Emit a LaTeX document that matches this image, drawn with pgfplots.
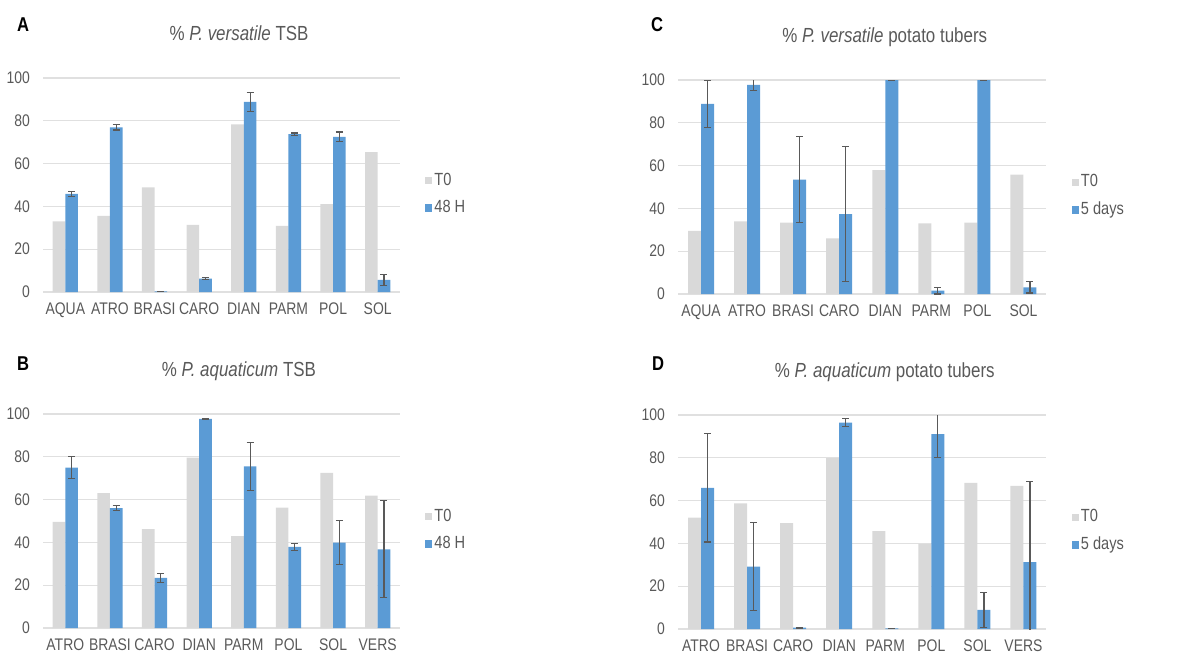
\documentclass[border=0pt]{standalone}
\usepackage{pgfplots}
\pgfplotsset{compat=1.18}
\usepackage{fontspec}
\setmainfont{Liberation Sans}[FakeStretch=0.83]

\definecolor{tzero}{HTML}{D9D9D9}
\definecolor{blu}{HTML}{5B9BD5}
\definecolor{txt}{HTML}{595959}
\definecolor{gridc}{HTML}{E0E0E0}

\pgfplotsset{
  panel/.style={
    scale only axis, height=107pt,
    ymin=0, ymax=100, ytick={0,20,...,100},
    xmin=-0.5, xmax=7.5, xtick={0,...,7},
    axis line style={draw=none},
    major tick length=0pt,
    ymajorgrids, grid style={gridc, line width=0.6pt},
    ybar=0pt,
    tick label style={font=\fontsize{8.4}{9}\selectfont, text=txt},
    /pgf/number format/assume math mode=true,
    yticklabel style={xshift=-3pt},
    xticklabel style={yshift=-2pt},
    title style={font=\fontsize{10.2}{12}\selectfont, text=txt, anchor=base, yshift=13pt},
    legend style={draw=none, fill=none, font=\fontsize{8.8}{10}\selectfont, text=txt,
      anchor=west, at={(1,0.457)}, xshift=12.5pt, row sep=4pt, inner sep=0pt,
      nodes={inner sep=1pt}},
    legend cell align=left,
    legend image code/.code={\fill[##1] (0pt,-1.9pt) rectangle (3.5pt,1.9pt);},
  },
  tz/.style={fill=tzero, draw=none},
  hr/.style={fill=blu, draw=none,
    error bars/.cd, y dir=both, y explicit,
    error bar style={txt, line width=0.6pt},
    error mark options={txt, rotate=90, mark size=1.75pt, line width=0.6pt}},
}

\begin{document}
\begin{tikzpicture}

% A
\begin{axis}[panel, name=A, at={(21.5pt,181.5pt)}, anchor=south west,
    width=178.5pt, bar width=6.3pt,
    title={\% \textit{P. versatile} TSB}, title style={at={(0.549,1)}},
    xticklabels={AQUA,ATRO,BRASI,CARO,DIAN,PARM,POL,SOL}]
\addplot[tz] coordinates {(0,33) (1,35.6) (2,48.9) (3,31.4) (4,78.3) (5,30.9) (6,41.1) (7,65.4)};
\addplot[hr] coordinates {
  (0,45.8) +- (0,1.0)
  (1,76.9) +- (0,1.2)
  (2,0.3) +- (0,0)
  (3,6.2) +- (0,0.5)
  (4,88.8) +- (0,4.5)
  (5,73.8) +- (0,0.5)
  (6,72.5) +- (0,2.3)
  (7,5.7) +- (0,2.5)
};
\legend{T0,48 H}
\end{axis}

% C
\begin{axis}[panel, name=C, at={(339pt,180.5pt)}, anchor=south west,
    width=184.25pt, bar width=6.5pt,
    title={\% \textit{P. versatile} potato tubers}, title style={at={(0.561,1)}},
    xticklabels={AQUA,ATRO,BRASI,CARO,DIAN,PARM,POL,SOL}]
\addplot[tz] coordinates {(0,29.5) (1,33.9) (2,33.3) (3,26) (4,57.9) (5,33) (6,33.4) (7,55.8)};
\addplot[hr] coordinates {
  (0,88.8) +- (0,10.9)
  (1,97.7) +- (0,2.5)
  (2,53.5) +- (0,20)
  (3,37.3) +- (0,31.5)
  (4,100) +- (0,0)
  (5,1.6) +- (0,1.6)
  (6,100) +- (0,0)
  (7,3.1) +- (0,2.6)
};
\legend{T0,5 days}
\end{axis}

% B
\begin{axis}[panel, name=B, at={(21.5pt,13.5pt)}, anchor=south west,
    width=178.5pt, bar width=6.3pt,
    title={\% \textit{P. aquaticum} TSB}, title style={at={(0.549,1)}},
    xticklabels={ATRO,BRASI,CARO,DIAN,PARM,POL,SOL,VERS}]
\addplot[tz] coordinates {(0,49.6) (1,63) (2,46.2) (3,79.6) (4,42.9) (5,56.2) (6,72.5) (7,61.9)};
\addplot[hr] coordinates {
  (0,75) +- (0,5)
  (1,56) +- (0,1.2)
  (2,23.4) +- (0,2.2)
  (3,97.7) +- (0,0.3)
  (4,75.5) +- (0,11.2)
  (5,37.9) +- (0,1.6)
  (6,39.9) +- (0,10.2)
  (7,36.8) +- (0,22.7)
};
\legend{T0,48 H}
\end{axis}

% D
\begin{axis}[panel, name=D, at={(339pt,13pt)}, anchor=south west,
    width=184.25pt, bar width=6.5pt,
    title={\% \textit{P. aquaticum} potato tubers}, title style={at={(0.561,1)}},
    xticklabels={ATRO,BRASI,CARO,DIAN,PARM,POL,SOL,VERS}]
\addplot[tz] coordinates {(0,52) (1,58.7) (2,49.5) (3,79.8) (4,45.7) (5,39.8) (6,68.3) (7,66.9)};
\addplot[hr] coordinates {
  (0,66) +- (0,25.3)
  (1,29.2) +- (0,20.7)
  (2,0.6) +- (0,0.2)
  (3,96.4) +- (0,1.9)
  (4,0.3) +- (0,0)
  (5,91.1) +- (0,10.9)
  (6,8.9) +- (0,8.2)
  (7,31.2) +- (0,37.7)
};
\legend{T0,5 days}
\end{axis}

\node[anchor=base west, font=\fontsize{10}{12}\selectfont\bfseries] at (5pt,311.5pt) {A};
\node[anchor=base west, font=\fontsize{10}{12}\selectfont\bfseries] at (322pt,311.5pt) {C};
\node[anchor=base west, font=\fontsize{10}{12}\selectfont\bfseries] at (5pt,142.5pt) {B};
\node[anchor=base west, font=\fontsize{10}{12}\selectfont\bfseries] at (322.5pt,142.5pt) {D};

\pgfresetboundingbox
\path[use as bounding box] (0,0) rectangle (599.5pt,327.5pt);
\end{tikzpicture}
\end{document}
